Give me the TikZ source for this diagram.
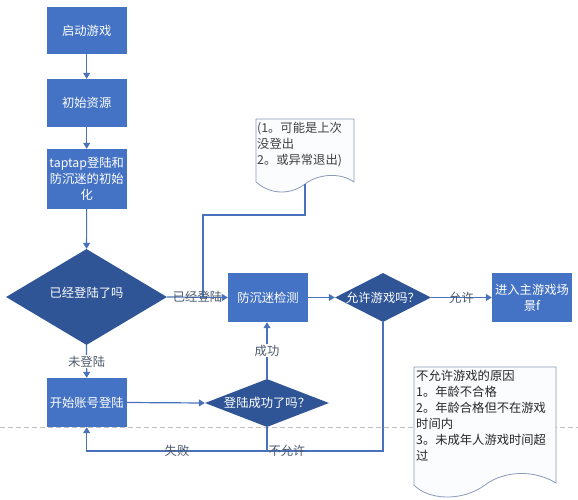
\documentclass[tikz,border=0pt]{standalone}
\usepackage{fontspec}
\setmainfont{Noto Sans CJK SC}
\usetikzlibrary{shapes.geometric,arrows.meta}
\definecolor{boxblue}{HTML}{4472C4}
\definecolor{diablue}{HTML}{2F5597}
\definecolor{linecol}{HTML}{4A72BC}
\definecolor{labcol}{HTML}{4D5A6E}
\definecolor{notebd}{HTML}{8A9BBA}
\definecolor{notefill}{HTML}{FBFCFE}
\definecolor{dashcol}{HTML}{BFBFBF}
\begin{document}
\begin{tikzpicture}[x=1pt,y=-1pt,
  font=\fontsize{12.3}{16}\selectfont,
  procbox/.style={rectangle, fill=boxblue, text=white, minimum width=80pt, inner sep=0pt, align=center},
  decis/.style={diamond, fill=diablue, inner sep=0pt},
  dtext/.style={text=white, inner sep=0pt},
  conn/.style={draw=linecol, line width=1.2pt, -{Triangle[width=7pt,length=6pt]}},
  plainconn/.style={draw=linecol, line width=1.2pt},
  lab/.style={text=labcol, inner sep=1pt},
  notest/.style={draw=notebd, line width=0.8pt, fill=notefill},
  notetext/.style={align=left, anchor=north west, inner sep=0pt, font=\fontsize{12.3}{16}\selectfont}
]
\useasboundingbox (0,0) rectangle (578,500);
\fill[white] (0,0) rectangle (578,500);
\draw[dashcol, dashed, dash pattern=on 5pt off 3pt, line width=0.7pt] (0,427) -- (578,427);

% process boxes
\node[procbox, minimum height=47pt] (b1) at (86.7,30.5) {启动游戏};
\node[procbox, minimum height=48pt] (b2) at (86.7,103) {初始资源};
\node[procbox, minimum height=60pt] (b3) at (86.7,179) {taptap登陆和\\防沉迷的初始\\化};
\node[decis, minimum width=161pt, minimum height=96pt] (d1) at (86.5,297) {};
\node[dtext] (d1t) at (86.5,293) {已经登陆了吗};
\node[procbox, minimum height=49pt] (b4) at (268,297.5) {防沉迷检测};
\node[decis, minimum width=96pt, minimum height=49pt] (d2) at (383,297.5) {};
\node[dtext] (d2t) at (383,297.5) {允许游戏吗？};
\node[procbox, minimum height=49pt] (b5) at (532,297.5) {进入主游戏场\\景f};
\node[procbox, minimum height=49pt] (b6) at (86.7,402.5) {开始账号登陆};
\node[decis, minimum width=124pt, minimum height=48pt] (d3) at (267,403) {};
\node[dtext] (d3t) at (267,403) {登陆成功了吗？};

% note 1
\draw[notest] (256,182) -- (256,119) -- (354,119) -- (354,182)
  .. controls (340,172) and (318,174) .. (305,184)
  .. controls (292,194) and (272,196) .. (256,182) -- cycle;
\node[notetext, text=black!75] (n1) at (257,122) {(1。可能是上次\\没登出\\2。或异常退出)};
\coordinate (n1b) at (305,184);
\coordinate (k1) at (203,215);

% note 2
\draw[notest] (414,485) -- (414,367) -- (556,367) -- (556,483)
  .. controls (535,470) and (505,470) .. (485,485)
  .. controls (462,502) and (428,500) .. (414,485) -- cycle;
\node[notetext, text=black!85] (n2) at (416,370) {不允许游戏的原因\\1。年龄不合格\\2。年龄合格但不在游戏\\时间内\\3。未成年人游戏时间超\\过};

% connectors
\draw[conn] (b1) -- (b2);
\draw[conn] (b2) -- (b3);
\draw[conn] (b3) -- (d1);
\draw[plainconn] (n1b) |- (k1) -- (k1 |- d1.east);
\draw[conn] (d1.east) -- node[lab]{已经登陆} (b4.west);
\draw[conn] (d1.south) -- node[lab, fill=white]{未登陆} (b6.north);
\draw[conn] (b6.east) -- (d3.west);
\draw[conn] (d3.north) -- node[lab, fill=white]{成功} (d3.north |- b4.south);
\draw[conn] (b4.east) -- (d2.west);
\draw[conn] (d2.east) -- node[lab]{允许} (b5.west);
\coordinate (j) at (267,451);
\draw[conn] (d3.south) -- (j) -| (b6.south);
\draw[plainconn] (d2.south) |- (j);
\node[lab] (lfail) at (177,451) {失败};
\node[lab] (lno) at (287,451) {不允许};
\end{tikzpicture}
\end{document}
